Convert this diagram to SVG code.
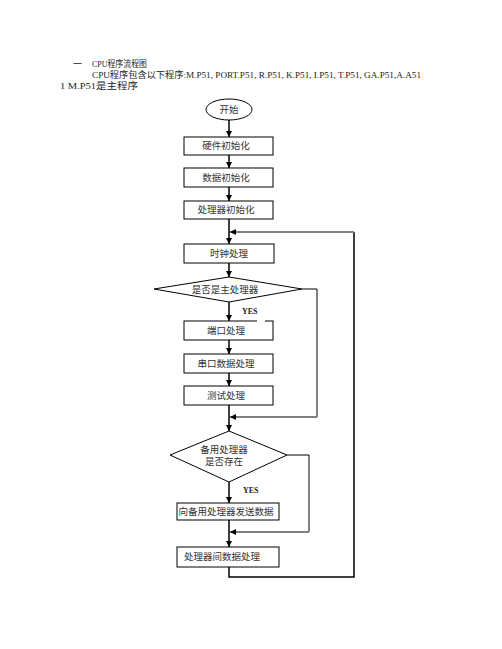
<svg xmlns="http://www.w3.org/2000/svg" width="502" height="649" viewBox="0 0 502 649">
<defs>
<marker id="ah" markerWidth="6" markerHeight="6" refX="6" refY="3" orient="auto" markerUnits="userSpaceOnUse">
<path d="M0,0 L6,3 L0,6 z" fill="#000"/>
</marker>
<style>
.hd{font-family:"Liberation Serif","Noto Sans CJK SC",serif;font-size:9px;fill:#222}
.t{font-family:"Liberation Serif","Noto Sans CJK SC",serif;font-size:9.5px;fill:#333;text-anchor:middle}
.y{font-family:"Liberation Serif",serif;font-size:8px;font-weight:bold;fill:#222}
.b{fill:#fff;stroke:#000;stroke-width:1}
.ln{fill:none;stroke:#000;stroke-width:1.5}
.th{fill:none;stroke:#000;stroke-width:1}
.gr{fill:none;stroke:#808080;stroke-width:2}
</style>
</defs>
<rect width="502" height="649" fill="#fff"/>
<g id="header">
<text class="hd" x="73" y="67">一</text>
<text class="hd" x="92" y="67" textLength="55" lengthAdjust="spacingAndGlyphs">CPU程序流程图</text>
<text class="hd" x="92" y="78" textLength="329" lengthAdjust="spacingAndGlyphs">CPU程序包含以下程序:M.P51, PORT.P51, R.P51, K.P51, I.P51, T.P51, GA.P51,A.A51</text>
<text class="hd" x="60" y="89" textLength="78" lengthAdjust="spacingAndGlyphs">1 M.P51是主程序</text>
</g>
<g id="connectors">
<line class="ln" x1="229" y1="120" x2="229" y2="137" marker-end="url(#ah)"/>
<line class="ln" x1="229" y1="155" x2="229" y2="168" marker-end="url(#ah)"/>
<line class="ln" x1="229" y1="187" x2="229" y2="201" marker-end="url(#ah)"/>
<line class="ln" x1="229" y1="219" x2="229" y2="244" marker-end="url(#ah)"/>
<line class="ln" x1="229" y1="263" x2="229" y2="277" marker-end="url(#ah)"/>
<line class="ln" x1="229" y1="302" x2="229" y2="321" marker-end="url(#ah)"/>
<line class="ln" x1="229" y1="340" x2="229" y2="354" marker-end="url(#ah)"/>
<line class="ln" x1="229" y1="373" x2="229" y2="386" marker-end="url(#ah)"/>
<line class="ln" x1="229" y1="405" x2="229" y2="431" marker-end="url(#ah)"/>
<line class="ln" x1="229" y1="482" x2="229" y2="503" marker-end="url(#ah)"/>
<line class="ln" x1="229" y1="520" x2="229" y2="547" marker-end="url(#ah)"/>
<polyline class="th" points="302,289 317,289 317,417"/>
<line class="gr" x1="317" y1="417" x2="230" y2="417" marker-end="url(#ah)"/>
<polyline class="th" points="287,455 309,455 309,532"/>
<line class="gr" x1="309" y1="532" x2="230" y2="532" marker-end="url(#ah)"/>
<polyline class="ln" points="229,567 229,577 354,577 354,232"/>
<line class="gr" x1="354" y1="232" x2="230" y2="232" marker-end="url(#ah)"/>
</g>
<g id="start">
<ellipse class="b" cx="229" cy="109.5" rx="23" ry="10.5"/>
<text class="t" x="229" y="113">开始</text>
</g>
<g id="hw-init">
<rect class="b" x="184" y="137" width="89" height="18"/>
<text class="t" x="226" y="149">硬件初始化</text>
</g>
<g id="data-init">
<rect class="b" x="184" y="168" width="89" height="19"/>
<text class="t" x="226" y="180.5">数据初始化</text>
</g>
<g id="proc-init">
<rect class="b" x="184" y="201" width="89" height="18"/>
<text class="t" x="226" y="213">处理器初始化</text>
</g>
<g id="clock">
<rect class="b" x="184" y="244" width="90" height="19"/>
<text class="t" x="229" y="256.5">时钟处理</text>
</g>
<g id="is-main">
<polygon class="b" points="229,277 302,289 229,302 154,289"/>
<text class="t" x="225" y="292.5">是否是主处理器</text>
</g>
<g id="yes1">
<text class="y" x="242" y="313.5">YES</text>
</g>
<g id="port">
<rect class="b" x="184" y="321" width="89" height="19"/>
<rect x="257" y="319.5" width="8" height="3" fill="#fff"/>
<text class="t" x="226" y="334">端口处理</text>
</g>
<g id="serial">
<rect class="b" x="184" y="354" width="89" height="19"/>
<text class="t" x="226" y="367">串口数据处理</text>
</g>
<g id="test">
<rect class="b" x="184" y="386" width="89" height="19"/>
<text class="t" x="226" y="399">测试处理</text>
</g>
<g id="has-backup">
<polygon class="b" points="229,431 287,455 229,482 170,455"/>
<text class="t" x="224" y="453">备用处理器</text>
<text class="t" x="224" y="465">是否存在</text>
</g>
<g id="yes2">
<text class="y" x="243" y="492.5">YES</text>
</g>
<g id="send">
<rect class="b" x="177" y="503" width="102" height="17"/>
<text class="t" x="226" y="514.5">向备用处理器发送数据</text>
</g>
<g id="inter">
<rect class="b" x="177" y="547" width="102" height="20"/>
<text class="t" x="222" y="560">处理器间数据处理</text>
</g>
</svg>
